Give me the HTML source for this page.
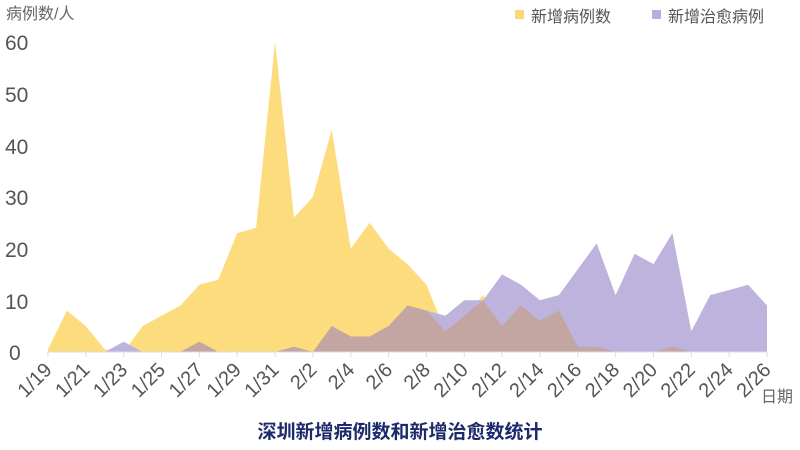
<!DOCTYPE html>
<html><head><meta charset="utf-8"><style>
html,body{margin:0;padding:0;background:#fff;width:800px;height:450px;overflow:hidden}
svg{display:block;font-family:"Liberation Sans","Noto Sans CJK SC",sans-serif}
</style></head><body>
<svg id="s" width="800" height="450" viewBox="0 0 800 450" xmlns="http://www.w3.org/2000/svg">
<text x="6" y="19" font-size="16" fill="#666">病例数/人</text>
<g font-size="21" fill="#555">
<text x="5" y="50">60</text><text x="5" y="102">50</text><text x="5" y="154">40</text>
<text x="5" y="205">30</text><text x="5" y="257">20</text><text x="5" y="309">10</text><text x="9" y="360">0</text>
</g>
<rect x="515" y="10" width="9" height="9" fill="#fbd878"/>
<text x="531" y="22" font-size="16" fill="#555">新增病例数</text>
<rect x="652" y="10" width="9" height="9" fill="#b8addc"/>
<text x="668" y="22" font-size="16" fill="#555">新增治愈病例</text>
<g id="areas"></g>
<line x1="48" y1="352" x2="767" y2="352" stroke="#ddd" stroke-width="1"/>
<g id="ticks"></g>
<text x="761" y="402" font-size="16" fill="#666">日期</text>
<text x="400" y="438" font-size="19" font-weight="bold" fill="#1c2a6b" text-anchor="middle">深圳新增病例数和新增治愈数统计</text>
</svg>
<script>
var Y=[0.5,8,5,0.5,0,5,7,9,13,14,23,24,60,26,30,43,20,25,20,17,13,4,7,11,5,9,6,8,1,1,0,0,0,1,0,0,0,0,0];
var P=[0,0,0,0,2,0,0,0,2,0,0,0,0,1,0,5,3,3,5,9,8,7,10,10,15,13,10,11,16,21,11,19,17,23,4,11,12,13,9];
function X(i){return 48+i*(767-48)/38}
function V(v){return 352-v*5.17}
function poly(a,c){var s=X(0)+",352 ";for(var i=0;i<a.length;i++)s+=X(i).toFixed(1)+","+V(a[i]).toFixed(1)+" ";s+=X(a.length-1)+",352";return '<polygon points="'+s+'" fill="'+c+'"/>'}
var M=Y.map(function(v,i){return Math.min(v,P[i])});
document.getElementById('areas').innerHTML=poly(Y,'#fcdc7c')+poly(P,'#bdb3dd')+poly(M,'#c3a5a1');
var t='';
for(var i=0;i<=38;i+=2){var x=X(i);var d=new Date(2020,0,19+i);var lab=(d.getMonth()+1)+'/'+d.getDate();
t+='<line x1="'+x+'" y1="352" x2="'+x+'" y2="357" stroke="#ddd"/>';
t+='<text font-size="20" fill="#555" text-anchor="end" transform="translate('+(x+5)+',371) rotate(-45)">'+lab+'</text>';}
document.getElementById('ticks').innerHTML=t;
</script>
</body></html>
